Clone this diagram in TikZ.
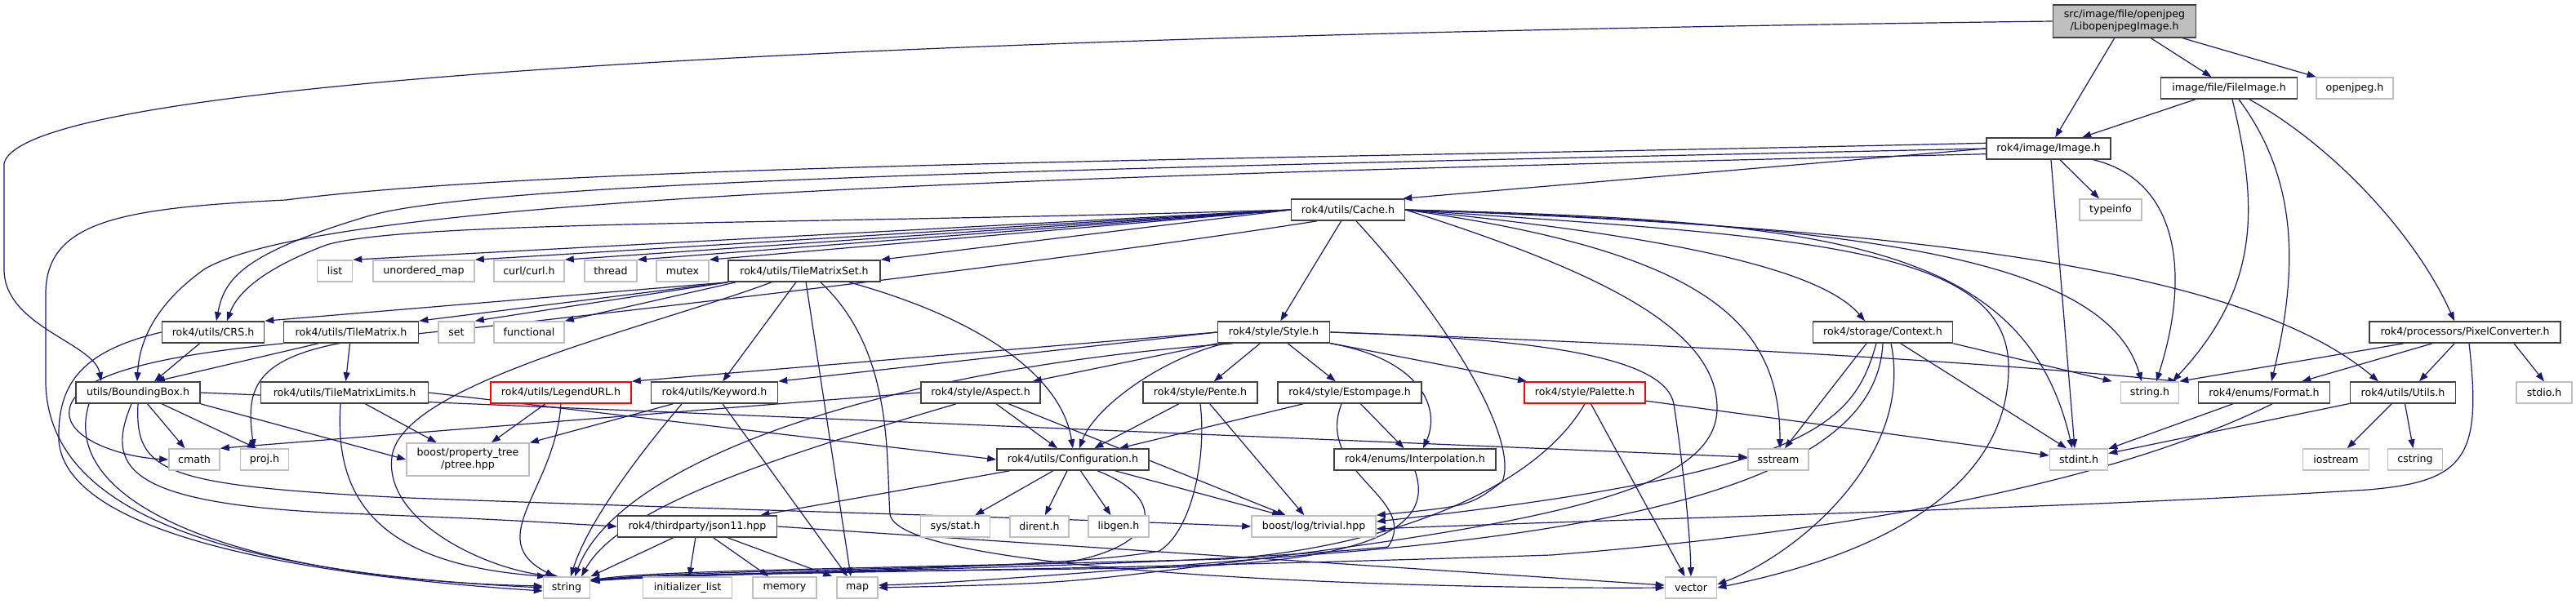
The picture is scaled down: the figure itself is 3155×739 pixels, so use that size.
\documentclass[tikz,border=0pt]{standalone}
\usepackage{fontspec}
\setmainfont{DejaVu Sans}
\usetikzlibrary{arrows.meta,positioning}
\definecolor{edgeblue}{HTML}{191970}
\definecolor{docborder}{HTML}{404040}
\definecolor{extborder}{HTML}{BFBFBF}
\definecolor{mainfill}{HTML}{BFBFBF}
\pgfdeclarelayer{bg}
\pgfsetlayers{bg,main}

\begin{document}
\begin{tikzpicture}[x=1pt,y=-1pt,
  box/.style={draw,fill=white,rectangle,minimum height=26pt,inner sep=0pt,
              align=center,line width=1.6pt,font=\fontsize{12.6}{15}\selectfont},
  docnode/.style={box,draw=docborder},
  extnode/.style={box,draw=extborder},
  rednode/.style={box,draw=red},
  mainnode/.style={box,draw=docborder,fill=mainfill,minimum height=40pt},
  dep/.style={draw=edgeblue,line width=1.2pt,-{Triangle[length=11pt,width=8pt]}}
]
\useasboundingbox (0,0) rectangle (3155,739);

% row 0 - 2
\node[mainnode,minimum width=175pt] (main) at (2602,26) {src/image/file/openjpeg\\/LibopenjpegImage.h};
\node[docnode,minimum width=167pt] (fileimg) at (2730,108) {image/file/FileImage.h};
\node[extnode,minimum width=94pt] (openjpeg) at (2884,108) {openjpeg.h};
\node[docnode,minimum width=152pt] (image) at (2509,182) {rok4/image/Image.h};
% row 3 - 4
\node[docnode,minimum width=139pt] (cache) at (1651,257) {rok4/utils/Cache.h};
\node[extnode,minimum width=76pt] (typeinfo) at (2585,257) {typeinfo};
\node[extnode,minimum width=43pt] (list) at (410,332) {list};
\node[extnode,minimum width=124pt] (umap) at (519,332) {unordered\_map};
\node[extnode,minimum width=86pt] (curl) at (648,332) {curl/curl.h};
\node[extnode,minimum width=64pt] (thread) at (748,332) {thread};
\node[extnode,minimum width=64pt] (mutex) at (836,332) {mutex};
\node[docnode,minimum width=186pt] (tms) at (985,332) {rok4/utils/TileMatrixSet.h};
% row 5
\node[docnode,minimum width=125pt] (crs) at (261,407) {rok4/utils/CRS.h};
\node[docnode,minimum width=165pt] (tm) at (430,407) {rok4/utils/TileMatrix.h};
\node[extnode,minimum width=44pt] (set) at (559,407) {set};
\node[extnode,minimum width=86pt] (functional) at (648,407) {functional};
\node[docnode,minimum width=137pt] (style) at (1560,407) {rok4/style/Style.h};
\node[docnode,minimum width=171pt] (context) at (2306,407) {rok4/storage/Context.h};
\node[docnode,minimum width=234pt] (pixconv) at (3019,407) {rok4/processors/PixelConverter.h};
% row 6
\node[docnode,minimum width=152pt] (bbox) at (169,481) {utils/BoundingBox.h};
\node[docnode,minimum width=205pt] (tml) at (422,481) {rok4/utils/TileMatrixLimits.h};
\node[rednode,minimum width=172pt] (legend) at (687,481) {rok4/utils/LegendURL.h};
\node[docnode,minimum width=155pt] (keyword) at (875,481) {rok4/utils/Keyword.h};
\node[docnode,minimum width=146pt] (aspect) at (1201,481) {rok4/style/Aspect.h};
\node[docnode,minimum width=140pt] (pente) at (1470,481) {rok4/style/Pente.h};
\node[docnode,minimum width=176pt] (estompage) at (1653,481) {rok4/style/Estompage.h};
\node[rednode,minimum width=148pt] (palette) at (1941,481) {rok4/style/Palette.h};
\node[extnode,minimum width=71pt] (stringh) at (2633,481) {string.h};
\node[docnode,minimum width=161pt] (format) at (2773,481) {rok4/enums/Format.h};
\node[docnode,minimum width=129pt] (utils) at (2943,481) {rok4/utils/Utils.h};
\node[extnode,minimum width=68pt] (stdio) at (3116,481) {stdio.h};
% row 7
\node[extnode,minimum width=62pt] (cmath) at (238,563) {cmath};
\node[extnode,minimum width=59pt] (proj) at (324,563) {proj.h};
\node[extnode,minimum width=150pt,minimum height=40pt] (ptree) at (573,563) {boost/property\_tree\\/ptree.hpp};
\node[docnode,minimum width=186pt] (config) at (1314,563) {rok4/utils/Configuration.h};
\node[docnode,minimum width=198pt] (interp) at (1733,563) {rok4/enums/Interpolation.h};
\node[extnode,minimum width=74pt] (sstream) at (2178,563) {sstream};
\node[extnode,minimum width=71pt] (stdint) at (2546,563) {stdint.h};
\node[extnode,minimum width=81pt] (iostream) at (2861,563) {iostream};
\node[extnode,minimum width=67pt] (cstring) at (2958,563) {cstring};
% row 8
\node[docnode,minimum width=195pt] (json) at (854,645) {rok4/thirdparty/json11.hpp};
\node[extnode,minimum width=85pt] (sysstat) at (1170,645) {sys/stat.h};
\node[extnode,minimum width=72pt] (dirent) at (1273,645) {dirent.h};
\node[extnode,minimum width=74pt] (libgen) at (1370,645) {libgen.h};
\node[extnode,minimum width=152pt] (trivial) at (1609,645) {boost/log/trivial.hpp};
% row 9
\node[extnode,minimum width=57pt] (string) at (694,720) {string};
\node[extnode,minimum width=109pt] (initlist) at (842,720) {initializer\_list};
\node[extnode,minimum width=78pt] (memory) at (961,720) {memory};
\node[extnode,minimum width=50pt] (map) at (1050,720) {map};
\node[extnode,minimum width=63pt] (vector) at (2071,720) {vector};

\begin{pgfonlayer}{bg}
% LibopenjpegImage.h
\draw[dep] (main) -- (fileimg);
\draw[dep] (main) -- (openjpeg);
\draw[dep] (main) -- (image);
\draw[dep] (main.west) .. controls (1000,45) and (30,100) .. (5,200) -- (5,330)
  .. controls (5,400) and (115,420) .. ([xshift=-45pt]bbox.north);
% FileImage.h
\draw[dep] (fileimg) -- (image);
\draw[dep] ([xshift=4pt]fileimg.south) .. controls (2765,250) and (2770,350) .. ([xshift=28pt]stringh.north);
\draw[dep] ([xshift=12pt]fileimg.south) .. controls (2815,220) and (2815,330) .. ([xshift=9pt]format.north);
\draw[dep] ([xshift=25pt]fileimg.south) .. controls (2860,180) and (2960,290) .. ([xshift=-13pt]pixconv.north);
% Image.h
\draw[dep] (image.west) -- ([xshift=-3pt]cache.north east);
\draw[dep] (image) -- (typeinfo);
\draw[dep] ([xshift=3pt]image.south) -- ([xshift=-5pt]stdint.north);
\draw[dep] ([xshift=55pt]image.south) .. controls (2665,220) and (2685,330) .. ([xshift=8pt]stringh.north);
\draw[dep] (image.175) .. controls (1600,195) and (700,200) .. (350,245)
  .. controls (150,255) and (56,270) .. (56,360) -- (56,470)
  .. controls (60,620) and (250,700) .. (string.west);
\draw[dep] (image.west) .. controls (1400,205) and (600,220) .. (450,265)
  .. controls (300,310) and (275,340) .. ([xshift=4pt]crs.north);
\draw[dep] (image.185) .. controls (1300,215) and (400,240) .. (250,330)
  .. controls (180,380) and (170,430) .. ([xshift=-1pt]bbox.north);
% Cache.h
\draw[dep] (cache.west) -- (list.north east);
\draw[dep] (cache.west) -- (umap.north east);
\draw[dep] (cache.west) -- (curl.north east);
\draw[dep] (cache.west) -- (thread.north east);
\draw[dep] (cache.west) -- (mutex.north east);
\draw[dep] (cache.west) -- (tms.north east);
\draw[dep] (cache.west) .. controls (1000,275) and (500,270) .. (400,300)
  .. controls (320,330) and (290,360) .. ([xshift=17pt]crs.north);
\draw[dep] (cache.200) .. controls (1300,320) and (700,390) .. (500,410)
  .. controls (310,425) and (300,470) .. ([xshift=-13pt]proj.north);
\draw[dep] (cache) -- (style);
\draw[dep] (cache.east) .. controls (2050,290) and (2230,330) .. ([xshift=-22pt]context.north);
\draw[dep] (cache.east) .. controls (2350,280) and (2750,330) .. ([xshift=-30pt]utils.north);
\draw[dep] (cache.east) .. controls (2300,275) and (2580,320) .. ([xshift=-10pt]stringh.north);
\draw[dep] (cache.east) .. controls (2250,270) and (2480,300) .. ([xshift=-8pt]stdint.north);
\draw[dep] (cache.east) .. controls (2200,290) and (2460,300) .. (2460,450)
  .. controls (2460,600) and (2300,680) .. (vector.east);
\draw[dep] (cache.east) .. controls (2100,310) and (2180,400) .. ([xshift=2pt]sstream.north);
\draw[dep] (cache.east) .. controls (1950,330) and (2103,400) .. (2103,500)
  .. controls (2103,600) and (1900,640) .. (1500,690) .. controls (1300,715) .. (map.east);
\draw[dep] ([xshift=10pt]cache.south) .. controls (1780,400) and (1860,540) .. (1840,590)
  .. controls (1800,620) .. (trivial.north east);
% TileMatrixSet.h
\draw[dep] (tms.south west) -- (crs.north east);
\draw[dep] (tms.south west) -- (tm.north east);
\draw[dep] (tms.south west) -- (set.north east);
\draw[dep] ([xshift=10pt]tms.south west) -- (functional.north east);
\draw[dep] (tms) -- (keyword);
\draw[dep] (tms) -- ([xshift=-8pt]map.north);
\draw[dep] ([xshift=20pt]tms.south) .. controls (1095,430) and (1085,560) .. (1090,630)
  .. controls (1100,700) and (1700,722) .. (vector.west);
\draw[dep] ([xshift=55pt]tms.south) .. controls (1200,390) and (1300,460) .. (config.north);
\draw[dep] ([xshift=-40pt]tms.south) .. controls (800,400) and (490,470) .. (480,560)
  .. controls (470,640) and (600,700) .. ([xshift=-10pt]string.north);
% CRS.h, TileMatrix.h
\draw[dep] (crs) -- ([xshift=20pt]bbox.north);
\draw[dep] (crs.west) .. controls (100,430) and (70,470) .. (72,540)
  .. controls (80,640) and (300,700) .. ([yshift=-4pt]string.west);
\draw[dep] ([xshift=-40pt]tm.south) -- ([xshift=22pt]bbox.north);
\draw[dep] (tm) -- (tml);
\draw[dep] (tm.south west) .. controls (150,440) and (80,470) .. (85,510)
  .. controls (90,540) and (150,560) .. (cmath.west);
% Style.h
\draw[dep] (style.west) -- (legend.north east);
\draw[dep] (style.west) -- (keyword.north east);
\draw[dep] (style.south west) -- ([xshift=-10pt]aspect.north east);
\draw[dep] (style) -- (pente);
\draw[dep] (style) -- (estompage);
\draw[dep] (style) -- (palette);
\draw[dep] (style.south east) .. controls (1740,440) and (1765,500) .. ([xshift=10pt]interp.north);
\draw[dep] ([xshift=-60pt]style.south) .. controls (1420,440) and (1340,500) .. ([xshift=8pt]config.north);
\draw[dep] ([xshift=-50pt]style.south) .. controls (1100,450) and (760,560) .. ([xshift=10pt]string.north);
\draw[dep] (style.east) .. controls (2000,420) and (2400,440) .. ([xshift=-3pt]stringh.north east);
\draw[dep] (style.east) .. controls (1900,415) and (2040,440) .. (2050,495)
  .. controls (2060,560) and (2070,650) .. (vector.north);
% Context.h
\draw[dep] (context.south east) -- ([xshift=-10pt]stringh.north west);
\draw[dep] (context) -- ([xshift=-15pt]stdint.north);
\draw[dep] ([xshift=-20pt]context.south) -- ([xshift=8pt]sstream.north);
\draw[dep] ([xshift=-8pt]context.south) .. controls (2270,520) and (2220,580) .. ([yshift=6pt]trivial.east);
\draw[dep] (context.south) .. controls (2300,540) and (2150,640) .. (1600,680)
  .. controls (1300,705) and (1150,715) .. ([yshift=3pt]map.east);
\draw[dep] ([xshift=10pt]context.south) .. controls (2345,560) and (2200,680) .. ([yshift=4pt]vector.east);
% PixelConverter.h
\draw[dep] ([xshift=-75pt]pixconv.south) -- (stringh.north east);
\draw[dep] ([xshift=-40pt]pixconv.south) -- ([xshift=-35pt]format.north east);
\draw[dep] (pixconv) -- ([xshift=20pt]utils.north);
\draw[dep] ([xshift=60pt]pixconv.south) -- (stdio.north);
\draw[dep] ([xshift=5pt]pixconv.south) .. controls (3040,560) and (3020,590) .. (2900,600)
  .. controls (2500,625) and (2000,635) .. ([yshift=-3pt]trivial.east);
% Format.h, Utils.h
\draw[dep] (format) -- (stdint);
\draw[dep] ([xshift=10pt]format.south) .. controls (2650,560) and (2400,640) .. (1900,680)
  .. controls (1300,700) and (900,701) .. ([yshift=10pt]string.east);
\draw[dep] (utils) -- (stdint);
\draw[dep] (utils) -- (iostream);
\draw[dep] (utils) -- (cstring);
% BoundingBox.h
\draw[dep] (bbox) -- (cmath);
\draw[dep] (bbox) -- ([xshift=-10pt]proj.north);
\draw[dep] (bbox.south east) -- (ptree.west);
\draw[dep] (bbox.east) -- ([yshift=3pt]sstream.west);
\draw[dep] (bbox.south) .. controls (165,580) and (200,595) .. (500,610)
  .. controls (900,625) and (1300,635) .. (trivial.west);
\draw[dep] ([xshift=-8pt]bbox.south) .. controls (130,570) and (150,615) .. (400,628)
  .. controls (600,636) .. (json.west);
\draw[dep] ([xshift=-60pt]bbox.south) .. controls (70,620) and (300,710) .. ([yshift=2pt]string.west);
% TileMatrixLimits.h, LegendURL.h, Keyword.h
\draw[dep] (tml) -- (ptree);
\draw[dep] (tml.east) -- (config.west);
\draw[dep] ([xshift=-5pt]tml.south) .. controls (410,600) and (450,690) .. ([xshift=-25pt]string.north);
\draw[dep] (legend) -- (ptree);
\draw[dep] (legend.south) .. controls (680,600) and (590,660) .. ([xshift=-15pt]string.north);
\draw[dep] (keyword) -- (ptree);
\draw[dep] ([xshift=-40pt]keyword.south) .. controls (780,560) and (720,640) .. ([xshift=5pt]string.north);
\draw[dep] (keyword) -- ([xshift=-12pt]map.north);
% Aspect.h, Pente.h, Estompage.h, Palette.h
\draw[dep] (aspect) -- (config);
\draw[dep] (aspect.west) -- (cmath.north east);
\draw[dep] (aspect) -- (trivial);
\draw[dep] ([xshift=-30pt]aspect.south) .. controls (950,560) and (760,620) .. ([xshift=18pt]string.north);
\draw[dep] (pente) -- (config);
\draw[dep] (pente) -- (trivial);
\draw[dep] (pente.south) .. controls (1478,560) and (1460,650) .. (1420,675)
  .. controls (1300,698) and (900,700) .. ([yshift=9pt]string.east);
\draw[dep] (estompage) -- (config);
\draw[dep] (estompage) -- (interp);
\draw[dep] ([xshift=-10pt]estompage.south) .. controls (1610,580) and (1740,610) .. (1700,670)
  .. controls (1400,698) and (900,699) .. ([yshift=8pt]string.east);
\draw[dep] (palette) -- (stdint);
\draw[dep] (palette) -- (vector);
\draw[dep] (palette.south) .. controls (1880,600) and (1700,670) .. (1500,685)
  .. controls (1000,698) and (800,699) .. ([yshift=9pt]string.east);
% Configuration.h, Interpolation.h, json11.hpp
\draw[dep] (config) -- (json);
\draw[dep] (config) -- (sysstat);
\draw[dep] (config) -- (dirent);
\draw[dep] (config) -- (libgen);
\draw[dep] (config) -- ([xshift=-40pt]trivial.north);
\draw[dep] ([xshift=30pt]config.south) .. controls (1430,610) and (1425,670) .. (1300,690)
  .. controls (1000,700) and (800,701) .. ([yshift=8pt]string.east);
\draw[dep] (interp.south) .. controls (1755,640) and (1700,690) .. (1400,696)
  .. controls (1100,700) and (850,701) .. ([yshift=9pt]string.east);
\draw[dep] (json) -- (string);
\draw[dep] (json) -- (initlist);
\draw[dep] (json) -- (memory);
\draw[dep] (json) -- ([xshift=-5pt]map.north west);
\draw[dep] (json.east) -- ([yshift=3pt]vector.west);
\end{pgfonlayer}
\end{tikzpicture}
\end{document}
